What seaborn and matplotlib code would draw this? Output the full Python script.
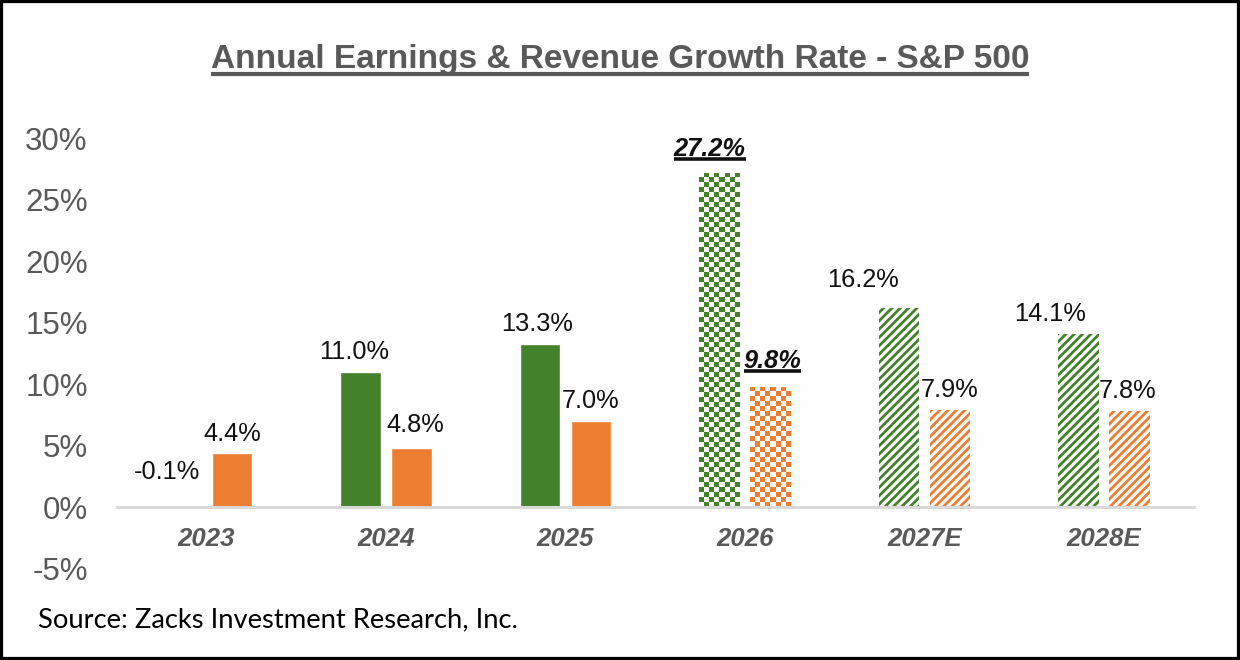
import numpy as np
import pandas as pd
import seaborn as sns
import matplotlib.pyplot as plt
from matplotlib.colors import ListedColormap
from matplotlib.lines import Line2D
from matplotlib.patches import Rectangle
from matplotlib.transforms import IdentityTransform

years = ['2023', '2024', '2025', '2026', '2027E', '2028E']
earnings = [-0.1, 11.0, 13.3, 27.2, 16.2, 14.1]
revenue = [4.4, 4.8, 7.0, 9.8, 7.9, 7.8]
yticks = [-5, 0, 5, 10, 15, 20, 25, 30]
checker_years = ['2026']
striped_years = ['2027E', '2028E']
bold_years = ['2026']

title = 'Annual Earnings & Revenue Growth Rate - S&P 500'
source = 'Source: Zacks Investment Research, Inc.'

GREEN = '#43822A'
ORANGE = '#ED7D31'
GREY = '#595959'

# label nudges in pixels (dx, dy) - excel had some labels dragged by hand
nudge_earn = [(-14, 15), (-6, 0), (-3, 0), (-10, 2), (-36, 8), (-28, 0)]
nudge_rev = [(0, -1), (4, 3), (0, 0), (2, 4), (0, 0), (-2, 0)]

sns.set_style('white')
plt.rcParams['font.family'] = ['Liberation Sans', 'DejaVu Sans']
plt.rcParams['hatch.linewidth'] = 2.0

df = pd.DataFrame({
    'year': years * 2,
    'growth': earnings + revenue,
    'series': ['Earnings'] * len(years) + ['Revenue'] * len(years),
})

fig = plt.figure(figsize=(12.4, 6.6), dpi=100)
ax = fig.add_axes([0.0942, 0.1386, 0.8685, 0.652])

sns.barplot(data=df, x='year', y='growth', hue='series', palette=[GREEN, ORANGE],
            width=0.568, gap=0.2, legend=False, ax=ax, errorbar=None, saturation=1)

ax.set_xlim(-0.5, len(years) - 0.5)
ax.set_ylim(-5, 30)
ax.set_yticks(yticks)
ax.set_yticklabels([f'{t}%' for t in yticks])
ax.set_xlabel('')
ax.set_ylabel('')
for s in ['left', 'right', 'top']:
    ax.spines[s].set_visible(False)
ax.spines['bottom'].set_position(('data', 0))
ax.spines['bottom'].set_color('#D9D9D9')
ax.spines['bottom'].set_linewidth(2.2)
ax.tick_params(axis='y', length=0, labelsize=22.5, labelcolor=GREY, pad=21)
ax.tick_params(axis='x', length=0, labelsize=18.5, labelcolor=GREY, pad=14.5)
for lab in ax.get_xticklabels():
    lab.set_fontweight('bold')
    lab.set_fontstyle('italic')

fig.canvas.draw()
px_per_unit = ax.transData.transform((0, 1))[1] - ax.transData.transform((0, 0))[1]
px_per_x = ax.transData.transform((1, 0))[0] - ax.transData.transform((0, 0))[0]

# patterned fills
for cont, color in zip(ax.containers, [GREEN, ORANGE]):
    for yr, bar in zip(years, cont):
        if yr in striped_years:
            bar.set_facecolor('white')
            bar.set_edgecolor(color)
            bar.set_hatch('////')
            bar.set_linewidth(0)
        elif yr in checker_years:
            x0, y0 = bar.get_x(), bar.get_y()
            w, h = bar.get_width(), bar.get_height()
            cols = max(1, int(round(w * px_per_x / 5)))
            rows = max(1, int(round(abs(h) * px_per_unit / 5)))
            board = np.indices((rows, cols)).sum(axis=0) % 2
            bar.set_facecolor('white')
            im = ax.imshow(board, extent=[x0, x0 + w, y0, y0 + h], origin='lower',
                           cmap=ListedColormap(['white', color]), interpolation='nearest',
                           aspect='auto', zorder=bar.get_zorder() + 0.1)
            im.set_clip_path(bar)

ax.set_xlim(-0.5, len(years) - 0.5)
ax.set_ylim(-5, 30)

# value labels
pt = 72 / fig.dpi
value_texts = []
for cont, vals, nudges in zip(ax.containers, [earnings, revenue], [nudge_earn, nudge_rev]):
    for yr, bar, v, (dx, dy) in zip(years, cont, vals, nudges):
        cx = bar.get_x() + bar.get_width() / 2
        bold = yr in bold_years
        gap = 15 if bold else 13
        t = ax.annotate(f'{v:.1f}%', xy=(cx, max(v, 0)),
                        xytext=(dx * pt, (gap + dy) * pt), textcoords='offset points',
                        ha='center', va='baseline', fontsize=18.3, color='#111111',
                        fontweight='bold' if bold else 'normal',
                        fontstyle='italic' if bold else 'normal',
                        annotation_clip=False)
        if bold:
            value_texts.append(t)

ttl = fig.text(0.5, 1 - 68 / 660, title, ha='center', va='baseline',
               fontsize=24, fontweight='bold', color=GREY)
fig.text(38 / 1240, 1 - 627 / 660, source, ha='left', va='baseline',
         fontsize=19.7, color='black', family=['Lato', 'DejaVu Sans'])

# underlines
fig.canvas.draw()
renderer = fig.canvas.get_renderer()
for t, col, lw in [(ttl, GREY, 3.0)] + [(t, '#111111', 2.6) for t in value_texts]:
    bb = t.get_window_extent(renderer)
    yline = bb.y0 + 1.5
    fig.add_artist(Line2D([bb.x0, bb.x1], [yline, yline], transform=IdentityTransform(),
                          color=col, lw=lw, solid_capstyle='butt'))

# black frame round the chart
fig.add_artist(Rectangle((0, 0), 1, 1, transform=fig.transFigure, fill=False,
                         edgecolor='black', lw=4.5))

fig.savefig('out.png', dpi=100)
